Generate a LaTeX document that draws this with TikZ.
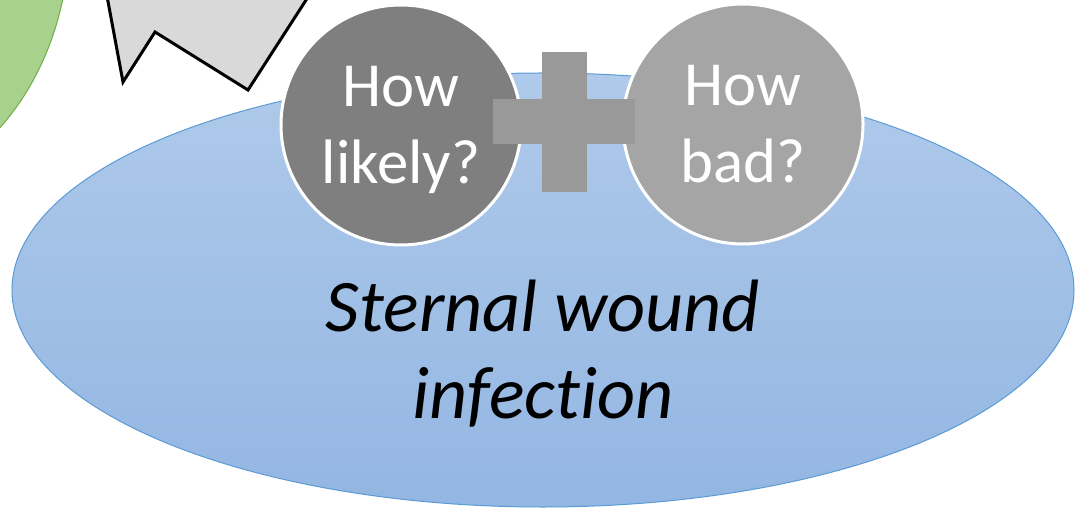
\documentclass[tikz,border=0pt]{standalone}
\usepackage{fontspec}
\setmainfont{Carlito}[RawFeature={-liga}]
\usetikzlibrary{shapes.geometric, positioning}
\definecolor{clrInfection}{HTML}{AFCAEA}
\definecolor{clrInfectionDeep}{HTML}{93B6E2}
\definecolor{clrInfectionLine}{HTML}{5B9BD5}
\definecolor{clrLikely}{HTML}{7F7F7F}
\definecolor{clrBad}{HTML}{A5A5A5}
\definecolor{clrPlus}{HTML}{999999}
\definecolor{clrCause}{HTML}{A9D18E}
\definecolor{clrCauseLine}{HTML}{70AD47}
\definecolor{clrBurst}{HTML}{D9D9D9}

\begin{document}
\begin{tikzpicture}[
  x=1bp, y=-1bp,
  question/.style = {
    circle,
    minimum size=240bp,
    inner sep=0pt,
    draw=white,
    line width=3bp,
    text=white,
    align=center,
    text depth=0pt,
    font=\fontsize{63}{77}\selectfont
  },
  caption/.style = {
    align=center,
    text depth=0pt,
    font=\fontsize{74.5}{87}\selectfont\itshape
  },
  every node/.style={outer sep=0pt}
]

% ── frame ────────────────────────────────────────────────────────────────────
\useasboundingbox (0,0) rectangle (1077,512);
\clip (0,0) rectangle (1077,512);

% ── neighbours cut by the frame ──────────────────────────────────────────────
\draw[fill=clrCause, draw=clrCauseLine, line width=1bp]
  (-130,-70) ellipse [x radius=200, y radius=260];
\draw[fill=clrBurst, draw=black, line width=3bp, line join=miter]
  (104,-20) -- (123,82) -- (155,32) -- (248,90) -- (319,-20) -- cycle;

% ── nodes ────────────────────────────────────────────────────────────────────
\node[
  ellipse, inner sep=0pt,
  minimum width=1062bp, minimum height=434bp,
  top color=clrInfection, bottom color=clrInfectionDeep,
  draw=clrInfectionLine, line width=1bp
] (infection) at (543,290) {};

\node[caption] (infectionText) at ([yshift=-59bp]infection.center)
  {Sternal wound\\infection};

\node[question, fill=clrLikely] (likely) at (401,125) {How\\likely?};
\node[question, fill=clrBad]    (bad)    at (743,124) {How\\bad?};

% ── plus between the two questions ───────────────────────────────────────────
\fill[clrPlus] (542,52) rectangle (587,192);
\fill[clrPlus] (493,99) rectangle (635,144);

\end{tikzpicture}
\end{document}
